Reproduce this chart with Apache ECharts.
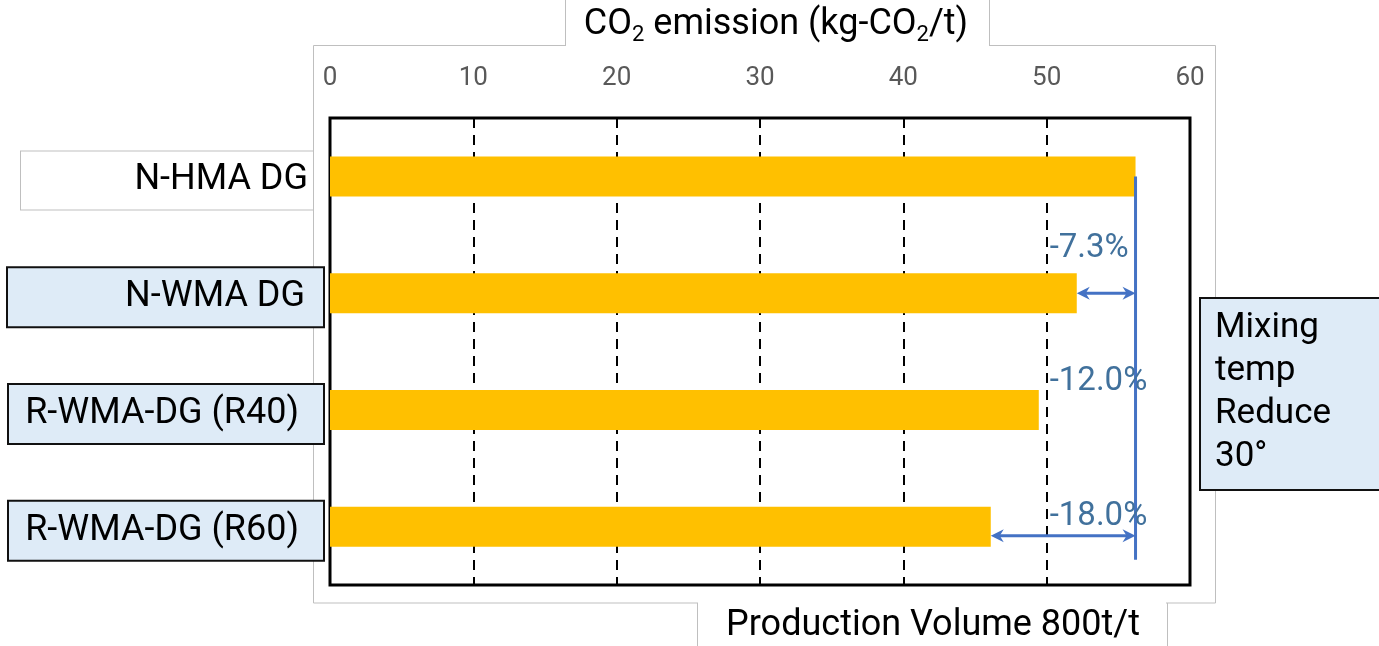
<!DOCTYPE html>
<html>
<head>
<meta charset="utf-8">
<script src="https://cdn.jsdelivr.net/npm/echarts@6/dist/echarts.min.js"></script>
<style>
  html, body { margin: 0; padding: 0; background: #fff; }
  #chart { width: 1379px; height: 646px; }
</style>
</head>
<body>
<div id="chart"></div>
<script>
// Mixture types (top to bottom) and their CO2 emission per tonne
const categories = ['N-HMA DG', 'N-WMA DG', 'R-WMA-DG (R40)', 'R-WMA-DG (R60)'];
const emissions = [56.2, 52.1, 49.45, 46.1];
// Reduction relative to the hot-mix baseline, stated beside each warm mix
const reductionLabels = ['', '-7.3%', '-12.0%', '-18.0%'];
// Value axis ticks
const axisMin = 0;
const axisMax = 60;
const axisStep = 10;
// Text blocks
const axisTitleParts = ['CO', '2', ' emission (kg-CO', '2', '/t)'];
const footerText = 'Production Volume 800t/t';
const noteLines = ['Mixing', 'temp', 'Reduce', '30°'];

const FONT = 'Roboto, "Noto Sans", sans-serif';
const BAR = '#FFC000';
const BLUE = '#4472C4';
const PCT = '#41719C';
const BOXFILL = '#DEEBF7';
const FRAME = '#BFBFBF';

const chart = echarts.init(document.getElementById('chart'), null, { renderer: 'canvas' });

// rich styles for category label boxes
const labelRich = {
  a: { width: 287, height: 58, lineHeight: 58, padding: [0, 5, 0, 0], align: 'right',
       backgroundColor: '#fff', borderColor: FRAME, borderWidth: 1,
       fontSize: 36, color: '#000', fontFamily: FONT },
  s: { width: 10, height: 58 },
  b: { width: 297, height: 58, lineHeight: 58, padding: [0, 18, 0, 0], align: 'right',
       backgroundColor: BOXFILL, borderColor: '#111', borderWidth: 2,
       fontSize: 36, color: '#000', fontFamily: FONT },
  c: { width: 290, height: 58, lineHeight: 58, padding: [0, 24, 0, 0], align: 'right',
       backgroundColor: BOXFILL, borderColor: '#111', borderWidth: 2,
       fontSize: 36, color: '#000', fontFamily: FONT }
};

function labelFormatter(value, idx) {
  if (idx === 0) return '{a|' + value + '}{s|}';
  if (idx === 1) return '{b|' + value + '}';
  return '{c|' + value + '}';
}

chart.setOption({
  animation: false,
  backgroundColor: '#fff',
  grid: {
    left: 330, right: 189, top: 118, bottom: 61,
    show: true, borderColor: '#000', borderWidth: 3, backgroundColor: 'transparent', z: 3
  },
  xAxis: {
    type: 'value', position: 'top',
    min: axisMin, max: axisMax, interval: axisStep,
    axisLine: { show: false }, axisTick: { show: false },
    axisLabel: { color: '#595959', fontSize: 26, fontFamily: FONT, margin: 27 },
    splitLine: { show: true, lineStyle: { color: '#000', width: 2, type: [10, 7] } }
  },
  yAxis: {
    type: 'category', inverse: true, data: categories, z: 5,
    axisLine: { show: false }, axisTick: { show: false },
    axisLabel: { margin: 7, padding: [8, 0, 0, 0], formatter: labelFormatter, rich: labelRich }
  },
  series: [{
    type: 'bar', data: emissions, barWidth: 40, z: 4,
    itemStyle: { color: BAR }
  }]
});

// annotation overlay derived from the chart's own scales
function px(v, i) { return chart.convertToPixel({ gridIndex: 0 }, [v, i]); }

function arrowHead(tipX, y, dir) {
  const L = 13, W = 6.5, N = 4;
  return {
    type: 'polygon', z: 20,
    shape: { points: [[tipX, y], [tipX - dir * L, y - W], [tipX - dir * (L - N), y], [tipX - dir * L, y + W]] },
    style: { fill: BLUE }
  };
}

function doubleArrow(x1, x2, y) {
  return [
    { type: 'line', z: 19, shape: { x1: x1 + 6, y1: y, x2: x2 - 6, y2: y }, style: { stroke: BLUE, lineWidth: 3 } },
    arrowHead(x1, y, -1),
    arrowHead(x2, y, 1)
  ];
}

const g = [];
// outer light frame
g.push({ type: 'rect', z: -20, shape: { x: 313.5, y: 45.5, width: 902, height: 557.5 },
         style: { fill: 'none', stroke: FRAME, lineWidth: 1 } });
// title tab
g.push({ type: 'rect', z: -10, shape: { x: 566, y: 0, width: 423, height: 47 }, style: { fill: '#fff' } });
g.push({ type: 'line', z: -9, shape: { x1: 565.5, y1: 0, x2: 565.5, y2: 45.5 }, style: { stroke: FRAME, lineWidth: 1 } });
g.push({ type: 'line', z: -9, shape: { x1: 989.5, y1: 0, x2: 989.5, y2: 45.5 }, style: { stroke: FRAME, lineWidth: 1 } });
g.push({
  type: 'text', z: 10, x: 776, y: 25,
  style: {
    text: '{m|' + axisTitleParts[0] + '}{d|' + axisTitleParts[1] + '}{m|' + axisTitleParts[2] + '}{d|' + axisTitleParts[3] + '}{m|' + axisTitleParts[4] + '}',
    align: 'center', verticalAlign: 'middle',
    rich: {
      m: { fontSize: 36, lineHeight: 42, verticalAlign: 'middle', fontFamily: FONT, fill: '#000', color: '#000' },
      d: { fontSize: 22, lineHeight: 20, verticalAlign: 'bottom', fontFamily: FONT, fill: '#000', color: '#000' }
    }
  }
});
// footer tab
g.push({ type: 'rect', z: -10, shape: { x: 698, y: 601, width: 468, height: 46 }, style: { fill: '#fff' } });
g.push({ type: 'line', z: -9, shape: { x1: 697.5, y1: 603, x2: 697.5, y2: 646 }, style: { stroke: FRAME, lineWidth: 1 } });
g.push({ type: 'line', z: -9, shape: { x1: 1167.5, y1: 603, x2: 1167.5, y2: 646 }, style: { stroke: FRAME, lineWidth: 1 } });
g.push({
  type: 'text', z: 10, x: 933, y: 626,
  style: { text: footerText, align: 'center', verticalAlign: 'middle', fontSize: 36, fontFamily: FONT, fill: '#000' }
});
// note box on the right
g.push({ type: 'rect', z: 5, shape: { x: 1200, y: 298, width: 190, height: 192 },
         style: { fill: BOXFILL, stroke: '#111', lineWidth: 2 } });
g.push({
  type: 'text', z: 10, x: 1215, y: 307,
  style: { text: noteLines.join('\n'), align: 'left', verticalAlign: 'top', fontSize: 35, lineHeight: 43,
           fontFamily: FONT, fill: '#000' }
});

// reference line at the baseline emission
const baseValue = emissions[0];
const basePt = px(baseValue, 0);
const lastPt = px(baseValue, categories.length - 1);
g.push({ type: 'line', z: 19, shape: { x1: basePt[0], y1: basePt[1], x2: basePt[0], y2: lastPt[1] + 33 },
         style: { stroke: BLUE, lineWidth: 3 } });
// arrows from the reduced bars to the baseline
const p1 = px(emissions[1], 1);
g.push(...doubleArrow(p1[0], basePt[0], p1[1]));
const p3 = px(emissions[3], 3);
g.push(...doubleArrow(p3[0], basePt[0], p3[1] + 9));
// percentage labels next to the 50 gridline
const labelLift = [0, 44, 28, 10];
for (let i = 1; i < categories.length; i++) {
  const c = px(50, i);
  g.push({
    type: 'text', z: 21, x: c[0] + 3, y: c[1] - labelLift[i],
    style: { text: reductionLabels[i], align: 'left', verticalAlign: 'middle', fontSize: 33,
             fontFamily: FONT, fill: PCT }
  });
}

chart.setOption({ graphic: g });
</script>
</body>
</html>
